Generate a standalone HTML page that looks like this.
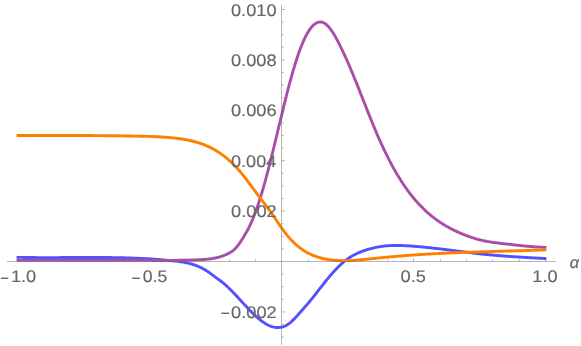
<!DOCTYPE html>
<html><head><meta charset="utf-8"><title>plot</title>
<style>html,body{margin:0;padding:0;background:#fff;overflow:hidden}svg{display:block;font-family:"Liberation Sans",sans-serif}</style>
</head><body>
<svg width="581" height="346" viewBox="0 0 581 346">
<defs><filter id="noaa" x="-5%" y="-5%" width="110%" height="110%"><feOffset dx="0" dy="0"/></filter></defs>
<rect width="581" height="346" fill="#ffffff"/>
<g fill="none" stroke-width="2.9" stroke-linecap="square" stroke-linejoin="round">
<path d="M18.0 257.33 L19.0 257.35 L20.0 257.38 L21.0 257.39 L22.0 257.41 L23.0 257.43 L24.0 257.45 L25.0 257.46 L26.0 257.48 L27.0 257.49 L28.0 257.50 L29.0 257.51 L30.0 257.53 L31.0 257.54 L32.0 257.55 L33.0 257.55 L34.0 257.56 L35.0 257.57 L36.0 257.58 L37.0 257.58 L38.0 257.59 L39.0 257.59 L40.0 257.60 L41.0 257.60 L42.0 257.60 L43.0 257.60 L44.0 257.61 L45.0 257.61 L46.0 257.61 L47.0 257.61 L48.0 257.61 L49.0 257.61 L50.0 257.61 L51.0 257.60 L52.0 257.60 L53.0 257.60 L54.0 257.60 L55.0 257.60 L56.0 257.59 L57.0 257.59 L58.0 257.59 L59.0 257.58 L60.0 257.58 L61.0 257.57 L62.0 257.57 L63.0 257.56 L64.0 257.56 L65.0 257.55 L66.0 257.55 L67.0 257.54 L68.0 257.54 L69.0 257.53 L70.0 257.53 L71.0 257.52 L72.0 257.52 L73.0 257.51 L74.0 257.51 L75.0 257.50 L76.0 257.50 L77.0 257.50 L78.0 257.49 L79.0 257.49 L80.0 257.48 L81.0 257.48 L82.0 257.48 L83.0 257.47 L84.0 257.47 L85.0 257.47 L86.0 257.46 L87.0 257.46 L88.0 257.46 L89.0 257.46 L90.0 257.46 L91.0 257.46 L92.0 257.46 L93.0 257.46 L94.0 257.46 L95.0 257.46 L96.0 257.46 L97.0 257.47 L98.0 257.47 L99.0 257.47 L100.0 257.48 L101.0 257.48 L102.0 257.49 L103.0 257.49 L104.0 257.50 L105.0 257.51 L106.0 257.52 L107.0 257.53 L108.0 257.54 L109.0 257.55 L110.0 257.56 L111.0 257.57 L112.0 257.59 L113.0 257.60 L114.0 257.61 L115.0 257.63 L116.0 257.65 L117.0 257.67 L118.0 257.68 L119.0 257.70 L120.0 257.73 L121.0 257.75 L122.0 257.77 L123.0 257.80 L124.0 257.82 L125.0 257.85 L126.0 257.87 L127.0 257.90 L128.0 257.93 L129.0 257.96 L130.0 258.00 L131.0 258.03 L132.0 258.07 L133.0 258.10 L134.0 258.14 L135.0 258.18 L136.0 258.22 L137.0 258.26 L138.0 258.30 L139.0 258.35 L140.0 258.39 L141.0 258.44 L142.0 258.49 L143.0 258.54 L144.0 258.59 L145.0 258.65 L146.0 258.70 L147.0 258.76 L148.0 258.81 L149.0 258.87 L150.0 258.94 L151.0 259.00 L152.0 259.06 L153.0 259.13 L154.0 259.20 L155.0 259.27 L156.0 259.34 L157.0 259.41 L158.0 259.49 L159.0 259.57 L160.0 259.64 L161.0 259.73 L162.0 259.81 L163.0 259.89 L164.0 259.98 L165.0 260.07 L166.0 260.16 L167.0 260.25 L168.0 260.35 L169.0 260.44 L170.0 260.54 L171.0 260.64 L172.0 260.74 L173.0 260.85 L174.0 260.96 L175.0 261.07 L176.0 261.18 L177.0 261.30 L178.0 261.42 L179.0 261.55 L180.0 261.69 L181.0 261.84 L182.0 261.99 L183.0 262.15 L184.0 262.33 L185.0 262.51 L186.0 262.71 L187.0 262.92 L188.0 263.14 L189.0 263.38 L190.0 263.63 L191.0 263.90 L192.0 264.19 L193.0 264.50 L194.0 264.82 L195.0 265.16 L196.0 265.52 L197.0 265.91 L198.0 266.31 L199.0 266.74 L200.0 267.20 L201.0 267.67 L202.0 268.17 L203.0 268.70 L204.0 269.26 L205.0 269.84 L206.0 270.45 L207.0 271.09 L208.0 271.76 L209.0 272.45 L210.0 273.16 L211.0 273.89 L212.0 274.62 L213.0 275.37 L214.0 276.11 L215.0 276.86 L216.0 277.60 L217.0 278.33 L218.0 279.06 L219.0 279.78 L220.0 280.51 L221.0 281.25 L222.0 282.02 L223.0 282.82 L224.0 283.65 L225.0 284.51 L226.0 285.39 L227.0 286.31 L228.0 287.24 L229.0 288.20 L230.0 289.18 L231.0 290.18 L232.0 291.20 L233.0 292.23 L234.0 293.27 L235.0 294.33 L236.0 295.40 L237.0 296.48 L238.0 297.56 L239.0 298.65 L240.0 299.74 L241.0 300.84 L242.0 301.93 L243.0 303.03 L244.0 304.12 L245.0 305.21 L246.0 306.29 L247.0 307.36 L248.0 308.42 L249.0 309.47 L250.0 310.50 L251.0 311.52 L252.0 312.53 L253.0 313.51 L254.0 314.48 L255.0 315.42 L256.0 316.34 L257.0 317.24 L258.0 318.11 L259.0 318.95 L260.0 319.76 L261.0 320.54 L262.0 321.28 L263.0 322.00 L264.0 322.67 L265.0 323.31 L266.0 323.91 L267.0 324.47 L268.0 324.99 L269.0 325.47 L270.0 325.90 L271.0 326.29 L272.0 326.62 L273.0 326.91 L274.0 327.15 L275.0 327.34 L276.0 327.47 L277.0 327.55 L278.0 327.57 L279.0 327.53 L280.0 327.43 L281.0 327.28 L282.0 327.06 L283.0 326.77 L284.0 326.42 L285.0 326.01 L286.0 325.52 L287.0 324.97 L288.0 324.34 L289.0 323.65 L290.0 322.87 L291.0 322.03 L292.0 321.12 L293.0 320.15 L294.0 319.14 L295.0 318.10 L296.0 317.03 L297.0 315.93 L298.0 314.81 L299.0 313.69 L300.0 312.56 L301.0 311.44 L302.0 310.31 L303.0 309.18 L304.0 308.04 L305.0 306.90 L306.0 305.75 L307.0 304.59 L308.0 303.41 L309.0 302.23 L310.0 301.02 L311.0 299.81 L312.0 298.57 L313.0 297.32 L314.0 296.06 L315.0 294.79 L316.0 293.52 L317.0 292.24 L318.0 290.95 L319.0 289.66 L320.0 288.38 L321.0 287.09 L322.0 285.81 L323.0 284.53 L324.0 283.27 L325.0 282.01 L326.0 280.77 L327.0 279.54 L328.0 278.32 L329.0 277.12 L330.0 275.94 L331.0 274.77 L332.0 273.63 L333.0 272.50 L334.0 271.40 L335.0 270.32 L336.0 269.25 L337.0 268.22 L338.0 267.21 L339.0 266.22 L340.0 265.26 L341.0 264.32 L342.0 263.42 L343.0 262.54 L344.0 261.70 L345.0 260.88 L346.0 260.10 L347.0 259.35 L348.0 258.63 L349.0 257.94 L350.0 257.29 L351.0 256.67 L352.0 256.07 L353.0 255.51 L354.0 254.97 L355.0 254.45 L356.0 253.96 L357.0 253.49 L358.0 253.04 L359.0 252.60 L360.0 252.19 L361.0 251.79 L362.0 251.41 L363.0 251.04 L364.0 250.69 L365.0 250.35 L366.0 250.02 L367.0 249.70 L368.0 249.39 L369.0 249.10 L370.0 248.82 L371.0 248.55 L372.0 248.29 L373.0 248.05 L374.0 247.81 L375.0 247.59 L376.0 247.38 L377.0 247.18 L378.0 246.99 L379.0 246.82 L380.0 246.65 L381.0 246.50 L382.0 246.36 L383.0 246.23 L384.0 246.11 L385.0 246.00 L386.0 245.90 L387.0 245.81 L388.0 245.73 L389.0 245.66 L390.0 245.61 L391.0 245.56 L392.0 245.52 L393.0 245.49 L394.0 245.47 L395.0 245.46 L396.0 245.45 L397.0 245.45 L398.0 245.46 L399.0 245.48 L400.0 245.50 L401.0 245.53 L402.0 245.56 L403.0 245.60 L404.0 245.65 L405.0 245.69 L406.0 245.75 L407.0 245.80 L408.0 245.86 L409.0 245.92 L410.0 245.99 L411.0 246.05 L412.0 246.12 L413.0 246.20 L414.0 246.27 L415.0 246.35 L416.0 246.43 L417.0 246.51 L418.0 246.59 L419.0 246.68 L420.0 246.77 L421.0 246.86 L422.0 246.95 L423.0 247.05 L424.0 247.15 L425.0 247.24 L426.0 247.34 L427.0 247.45 L428.0 247.55 L429.0 247.66 L430.0 247.76 L431.0 247.87 L432.0 247.98 L433.0 248.09 L434.0 248.21 L435.0 248.32 L436.0 248.44 L437.0 248.55 L438.0 248.67 L439.0 248.79 L440.0 248.91 L441.0 249.03 L442.0 249.15 L443.0 249.27 L444.0 249.40 L445.0 249.52 L446.0 249.65 L447.0 249.77 L448.0 249.90 L449.0 250.02 L450.0 250.15 L451.0 250.28 L452.0 250.40 L453.0 250.53 L454.0 250.66 L455.0 250.78 L456.0 250.91 L457.0 251.04 L458.0 251.17 L459.0 251.29 L460.0 251.42 L461.0 251.55 L462.0 251.67 L463.0 251.80 L464.0 251.93 L465.0 252.05 L466.0 252.18 L467.0 252.30 L468.0 252.42 L469.0 252.54 L470.0 252.67 L471.0 252.79 L472.0 252.91 L473.0 253.03 L474.0 253.14 L475.0 253.26 L476.0 253.38 L477.0 253.49 L478.0 253.60 L479.0 253.72 L480.0 253.83 L481.0 253.94 L482.0 254.04 L483.0 254.15 L484.0 254.25 L485.0 254.36 L486.0 254.46 L487.0 254.56 L488.0 254.65 L489.0 254.75 L490.0 254.85 L491.0 254.94 L492.0 255.03 L493.0 255.12 L494.0 255.21 L495.0 255.30 L496.0 255.38 L497.0 255.47 L498.0 255.55 L499.0 255.63 L500.0 255.71 L501.0 255.79 L502.0 255.87 L503.0 255.95 L504.0 256.03 L505.0 256.10 L506.0 256.17 L507.0 256.25 L508.0 256.32 L509.0 256.39 L510.0 256.46 L511.0 256.53 L512.0 256.60 L513.0 256.66 L514.0 256.73 L515.0 256.79 L516.0 256.86 L517.0 256.92 L518.0 256.99 L519.0 257.05 L520.0 257.11 L521.0 257.17 L522.0 257.23 L523.0 257.29 L524.0 257.35 L525.0 257.41 L526.0 257.47 L527.0 257.53 L528.0 257.58 L529.0 257.64 L530.0 257.70 L531.0 257.75 L532.0 257.81 L533.0 257.86 L534.0 257.92 L535.0 257.97 L536.0 258.03 L537.0 258.08 L538.0 258.14 L539.0 258.19 L540.0 258.24 L541.0 258.30 L542.0 258.35 L543.0 258.41 L544.0 258.46 L545.0 258.51" stroke="#5151ff"/>
<path d="M18.0 260.26 L19.0 260.27 L20.0 260.28 L21.0 260.29 L22.0 260.30 L23.0 260.30 L24.0 260.31 L25.0 260.32 L26.0 260.32 L27.0 260.33 L28.0 260.33 L29.0 260.34 L30.0 260.34 L31.0 260.35 L32.0 260.35 L33.0 260.35 L34.0 260.36 L35.0 260.36 L36.0 260.36 L37.0 260.36 L38.0 260.36 L39.0 260.37 L40.0 260.37 L41.0 260.37 L42.0 260.37 L43.0 260.37 L44.0 260.37 L45.0 260.37 L46.0 260.37 L47.0 260.37 L48.0 260.37 L49.0 260.37 L50.0 260.36 L51.0 260.36 L52.0 260.36 L53.0 260.36 L54.0 260.36 L55.0 260.35 L56.0 260.35 L57.0 260.35 L58.0 260.35 L59.0 260.34 L60.0 260.34 L61.0 260.34 L62.0 260.33 L63.0 260.33 L64.0 260.33 L65.0 260.32 L66.0 260.32 L67.0 260.32 L68.0 260.31 L69.0 260.31 L70.0 260.31 L71.0 260.30 L72.0 260.30 L73.0 260.29 L74.0 260.29 L75.0 260.29 L76.0 260.28 L77.0 260.28 L78.0 260.27 L79.0 260.27 L80.0 260.27 L81.0 260.26 L82.0 260.26 L83.0 260.25 L84.0 260.25 L85.0 260.25 L86.0 260.24 L87.0 260.24 L88.0 260.24 L89.0 260.23 L90.0 260.23 L91.0 260.23 L92.0 260.23 L93.0 260.22 L94.0 260.22 L95.0 260.22 L96.0 260.22 L97.0 260.21 L98.0 260.21 L99.0 260.21 L100.0 260.21 L101.0 260.21 L102.0 260.21 L103.0 260.21 L104.0 260.20 L105.0 260.20 L106.0 260.20 L107.0 260.20 L108.0 260.20 L109.0 260.20 L110.0 260.21 L111.0 260.21 L112.0 260.21 L113.0 260.21 L114.0 260.21 L115.0 260.21 L116.0 260.22 L117.0 260.22 L118.0 260.22 L119.0 260.23 L120.0 260.23 L121.0 260.24 L122.0 260.24 L123.0 260.25 L124.0 260.25 L125.0 260.26 L126.0 260.26 L127.0 260.27 L128.0 260.28 L129.0 260.28 L130.0 260.29 L131.0 260.30 L132.0 260.30 L133.0 260.31 L134.0 260.32 L135.0 260.32 L136.0 260.33 L137.0 260.34 L138.0 260.34 L139.0 260.35 L140.0 260.36 L141.0 260.37 L142.0 260.37 L143.0 260.38 L144.0 260.38 L145.0 260.39 L146.0 260.40 L147.0 260.40 L148.0 260.41 L149.0 260.41 L150.0 260.42 L151.0 260.42 L152.0 260.43 L153.0 260.43 L154.0 260.43 L155.0 260.44 L156.0 260.44 L157.0 260.44 L158.0 260.44 L159.0 260.44 L160.0 260.44 L161.0 260.44 L162.0 260.44 L163.0 260.44 L164.0 260.44 L165.0 260.43 L166.0 260.43 L167.0 260.42 L168.0 260.42 L169.0 260.41 L170.0 260.41 L171.0 260.40 L172.0 260.39 L173.0 260.38 L174.0 260.37 L175.0 260.36 L176.0 260.35 L177.0 260.34 L178.0 260.32 L179.0 260.31 L180.0 260.29 L181.0 260.27 L182.0 260.26 L183.0 260.24 L184.0 260.22 L185.0 260.19 L186.0 260.17 L187.0 260.15 L188.0 260.12 L189.0 260.10 L190.0 260.07 L191.0 260.04 L192.0 260.01 L193.0 259.98 L194.0 259.95 L195.0 259.91 L196.0 259.87 L197.0 259.84 L198.0 259.80 L199.0 259.76 L200.0 259.71 L201.0 259.66 L202.0 259.61 L203.0 259.55 L204.0 259.48 L205.0 259.40 L206.0 259.32 L207.0 259.22 L208.0 259.12 L209.0 259.01 L210.0 258.88 L211.0 258.74 L212.0 258.59 L213.0 258.42 L214.0 258.24 L215.0 258.04 L216.0 257.83 L217.0 257.60 L218.0 257.35 L219.0 257.08 L220.0 256.79 L221.0 256.48 L222.0 256.15 L223.0 255.80 L224.0 255.42 L225.0 255.02 L226.0 254.60 L227.0 254.15 L228.0 253.67 L229.0 253.16 L230.0 252.61 L231.0 252.01 L232.0 251.33 L233.0 250.59 L234.0 249.75 L235.0 248.82 L236.0 247.77 L237.0 246.61 L238.0 245.34 L239.0 243.99 L240.0 242.55 L241.0 241.05 L242.0 239.50 L243.0 237.91 L244.0 236.28 L245.0 234.61 L246.0 232.88 L247.0 231.10 L248.0 229.24 L249.0 227.30 L250.0 225.26 L251.0 223.12 L252.0 220.86 L253.0 218.49 L254.0 216.00 L255.0 213.39 L256.0 210.67 L257.0 207.85 L258.0 204.92 L259.0 201.89 L260.0 198.76 L261.0 195.54 L262.0 192.22 L263.0 188.82 L264.0 185.34 L265.0 181.78 L266.0 178.14 L267.0 174.42 L268.0 170.64 L269.0 166.80 L270.0 162.89 L271.0 158.92 L272.0 154.90 L273.0 150.84 L274.0 146.73 L275.0 142.60 L276.0 138.45 L277.0 134.28 L278.0 130.11 L279.0 125.95 L280.0 121.79 L281.0 117.66 L282.0 113.55 L283.0 109.46 L284.0 105.38 L285.0 101.32 L286.0 97.31 L287.0 93.37 L288.0 89.48 L289.0 85.67 L290.0 81.93 L291.0 78.27 L292.0 74.69 L293.0 71.20 L294.0 67.80 L295.0 64.50 L296.0 61.30 L297.0 58.20 L298.0 55.21 L299.0 52.34 L300.0 49.58 L301.0 46.95 L302.0 44.44 L303.0 42.06 L304.0 39.82 L305.0 37.70 L306.0 35.72 L307.0 33.87 L308.0 32.15 L309.0 30.56 L310.0 29.10 L311.0 27.78 L312.0 26.60 L313.0 25.54 L314.0 24.63 L315.0 23.85 L316.0 23.20 L317.0 22.69 L318.0 22.31 L319.0 22.08 L320.0 21.98 L321.0 22.02 L322.0 22.19 L323.0 22.51 L324.0 22.96 L325.0 23.56 L326.0 24.29 L327.0 25.16 L328.0 26.15 L329.0 27.27 L330.0 28.50 L331.0 29.83 L332.0 31.26 L333.0 32.79 L334.0 34.41 L335.0 36.10 L336.0 37.87 L337.0 39.70 L338.0 41.59 L339.0 43.54 L340.0 45.54 L341.0 47.57 L342.0 49.64 L343.0 51.75 L344.0 53.89 L345.0 56.07 L346.0 58.27 L347.0 60.52 L348.0 62.79 L349.0 65.09 L350.0 67.42 L351.0 69.77 L352.0 72.16 L353.0 74.56 L354.0 76.99 L355.0 79.44 L356.0 81.91 L357.0 84.39 L358.0 86.88 L359.0 89.39 L360.0 91.91 L361.0 94.43 L362.0 96.96 L363.0 99.49 L364.0 102.02 L365.0 104.55 L366.0 107.08 L367.0 109.60 L368.0 112.11 L369.0 114.61 L370.0 117.10 L371.0 119.57 L372.0 122.03 L373.0 124.47 L374.0 126.89 L375.0 129.29 L376.0 131.66 L377.0 134.00 L378.0 136.31 L379.0 138.60 L380.0 140.84 L381.0 143.06 L382.0 145.25 L383.0 147.40 L384.0 149.52 L385.0 151.61 L386.0 153.66 L387.0 155.69 L388.0 157.68 L389.0 159.64 L390.0 161.57 L391.0 163.46 L392.0 165.32 L393.0 167.16 L394.0 168.96 L395.0 170.72 L396.0 172.46 L397.0 174.16 L398.0 175.84 L399.0 177.48 L400.0 179.09 L401.0 180.66 L402.0 182.21 L403.0 183.73 L404.0 185.22 L405.0 186.68 L406.0 188.11 L407.0 189.51 L408.0 190.88 L409.0 192.22 L410.0 193.54 L411.0 194.83 L412.0 196.09 L413.0 197.33 L414.0 198.54 L415.0 199.73 L416.0 200.89 L417.0 202.03 L418.0 203.14 L419.0 204.23 L420.0 205.29 L421.0 206.33 L422.0 207.35 L423.0 208.34 L424.0 209.32 L425.0 210.27 L426.0 211.20 L427.0 212.11 L428.0 213.00 L429.0 213.87 L430.0 214.72 L431.0 215.55 L432.0 216.36 L433.0 217.16 L434.0 217.93 L435.0 218.69 L436.0 219.43 L437.0 220.15 L438.0 220.86 L439.0 221.55 L440.0 222.22 L441.0 222.88 L442.0 223.52 L443.0 224.15 L444.0 224.77 L445.0 225.37 L446.0 225.96 L447.0 226.53 L448.0 227.09 L449.0 227.64 L450.0 228.18 L451.0 228.71 L452.0 229.22 L453.0 229.73 L454.0 230.22 L455.0 230.70 L456.0 231.18 L457.0 231.64 L458.0 232.10 L459.0 232.55 L460.0 232.99 L461.0 233.42 L462.0 233.84 L463.0 234.25 L464.0 234.66 L465.0 235.05 L466.0 235.44 L467.0 235.82 L468.0 236.19 L469.0 236.55 L470.0 236.90 L471.0 237.24 L472.0 237.57 L473.0 237.90 L474.0 238.21 L475.0 238.51 L476.0 238.81 L477.0 239.09 L478.0 239.37 L479.0 239.64 L480.0 239.89 L481.0 240.14 L482.0 240.37 L483.0 240.60 L484.0 240.81 L485.0 241.02 L486.0 241.22 L487.0 241.40 L488.0 241.58 L489.0 241.75 L490.0 241.92 L491.0 242.07 L492.0 242.22 L493.0 242.37 L494.0 242.51 L495.0 242.64 L496.0 242.77 L497.0 242.89 L498.0 243.02 L499.0 243.14 L500.0 243.25 L501.0 243.37 L502.0 243.48 L503.0 243.60 L504.0 243.71 L505.0 243.83 L506.0 243.94 L507.0 244.06 L508.0 244.17 L509.0 244.29 L510.0 244.40 L511.0 244.52 L512.0 244.63 L513.0 244.75 L514.0 244.86 L515.0 244.97 L516.0 245.09 L517.0 245.20 L518.0 245.31 L519.0 245.41 L520.0 245.52 L521.0 245.63 L522.0 245.73 L523.0 245.83 L524.0 245.93 L525.0 246.03 L526.0 246.13 L527.0 246.22 L528.0 246.31 L529.0 246.40 L530.0 246.49 L531.0 246.57 L532.0 246.65 L533.0 246.73 L534.0 246.80 L535.0 246.87 L536.0 246.94 L537.0 247.00 L538.0 247.06 L539.0 247.12 L540.0 247.17 L541.0 247.22 L542.0 247.27 L543.0 247.31 L544.0 247.34 L545.0 247.37" stroke="#a84ea9"/>
<path d="M18.0 135.51 L19.0 135.51 L20.0 135.51 L21.0 135.50 L22.0 135.50 L23.0 135.50 L24.0 135.50 L25.0 135.50 L26.0 135.49 L27.0 135.49 L28.0 135.49 L29.0 135.49 L30.0 135.49 L31.0 135.49 L32.0 135.48 L33.0 135.48 L34.0 135.48 L35.0 135.48 L36.0 135.48 L37.0 135.48 L38.0 135.48 L39.0 135.47 L40.0 135.47 L41.0 135.47 L42.0 135.47 L43.0 135.47 L44.0 135.47 L45.0 135.47 L46.0 135.47 L47.0 135.47 L48.0 135.47 L49.0 135.46 L50.0 135.46 L51.0 135.46 L52.0 135.46 L53.0 135.46 L54.0 135.46 L55.0 135.46 L56.0 135.46 L57.0 135.46 L58.0 135.46 L59.0 135.46 L60.0 135.47 L61.0 135.47 L62.0 135.47 L63.0 135.47 L64.0 135.47 L65.0 135.47 L66.0 135.47 L67.0 135.47 L68.0 135.47 L69.0 135.48 L70.0 135.48 L71.0 135.48 L72.0 135.48 L73.0 135.49 L74.0 135.49 L75.0 135.49 L76.0 135.49 L77.0 135.50 L78.0 135.50 L79.0 135.50 L80.0 135.51 L81.0 135.51 L82.0 135.52 L83.0 135.52 L84.0 135.52 L85.0 135.53 L86.0 135.53 L87.0 135.54 L88.0 135.54 L89.0 135.55 L90.0 135.56 L91.0 135.56 L92.0 135.57 L93.0 135.58 L94.0 135.58 L95.0 135.59 L96.0 135.60 L97.0 135.60 L98.0 135.61 L99.0 135.62 L100.0 135.63 L101.0 135.64 L102.0 135.64 L103.0 135.65 L104.0 135.66 L105.0 135.67 L106.0 135.68 L107.0 135.69 L108.0 135.70 L109.0 135.71 L110.0 135.72 L111.0 135.73 L112.0 135.75 L113.0 135.76 L114.0 135.77 L115.0 135.78 L116.0 135.80 L117.0 135.81 L118.0 135.82 L119.0 135.83 L120.0 135.85 L121.0 135.86 L122.0 135.88 L123.0 135.89 L124.0 135.91 L125.0 135.92 L126.0 135.94 L127.0 135.96 L128.0 135.97 L129.0 135.99 L130.0 136.01 L131.0 136.02 L132.0 136.04 L133.0 136.06 L134.0 136.08 L135.0 136.10 L136.0 136.12 L137.0 136.14 L138.0 136.16 L139.0 136.18 L140.0 136.20 L141.0 136.22 L142.0 136.24 L143.0 136.27 L144.0 136.29 L145.0 136.31 L146.0 136.34 L147.0 136.36 L148.0 136.39 L149.0 136.42 L150.0 136.45 L151.0 136.48 L152.0 136.52 L153.0 136.56 L154.0 136.59 L155.0 136.63 L156.0 136.68 L157.0 136.72 L158.0 136.77 L159.0 136.82 L160.0 136.88 L161.0 136.93 L162.0 136.99 L163.0 137.05 L164.0 137.12 L165.0 137.19 L166.0 137.27 L167.0 137.34 L168.0 137.42 L169.0 137.51 L170.0 137.60 L171.0 137.69 L172.0 137.79 L173.0 137.90 L174.0 138.00 L175.0 138.12 L176.0 138.23 L177.0 138.36 L178.0 138.48 L179.0 138.62 L180.0 138.76 L181.0 138.90 L182.0 139.05 L183.0 139.21 L184.0 139.37 L185.0 139.54 L186.0 139.72 L187.0 139.91 L188.0 140.11 L189.0 140.31 L190.0 140.52 L191.0 140.75 L192.0 140.98 L193.0 141.22 L194.0 141.48 L195.0 141.74 L196.0 142.02 L197.0 142.31 L198.0 142.61 L199.0 142.92 L200.0 143.25 L201.0 143.59 L202.0 143.94 L203.0 144.31 L204.0 144.69 L205.0 145.09 L206.0 145.51 L207.0 145.94 L208.0 146.38 L209.0 146.84 L210.0 147.32 L211.0 147.82 L212.0 148.34 L213.0 148.87 L214.0 149.42 L215.0 149.99 L216.0 150.58 L217.0 151.19 L218.0 151.82 L219.0 152.48 L220.0 153.15 L221.0 153.84 L222.0 154.56 L223.0 155.30 L224.0 156.06 L225.0 156.84 L226.0 157.64 L227.0 158.47 L228.0 159.32 L229.0 160.20 L230.0 161.10 L231.0 162.02 L232.0 162.97 L233.0 163.95 L234.0 164.94 L235.0 165.97 L236.0 167.02 L237.0 168.09 L238.0 169.19 L239.0 170.32 L240.0 171.47 L241.0 172.66 L242.0 173.86 L243.0 175.10 L244.0 176.36 L245.0 177.64 L246.0 178.93 L247.0 180.25 L248.0 181.58 L249.0 182.92 L250.0 184.27 L251.0 185.63 L252.0 186.99 L253.0 188.35 L254.0 189.71 L255.0 191.07 L256.0 192.42 L257.0 193.76 L258.0 195.10 L259.0 196.42 L260.0 197.74 L261.0 199.05 L262.0 200.36 L263.0 201.67 L264.0 202.99 L265.0 204.31 L266.0 205.64 L267.0 206.98 L268.0 208.33 L269.0 209.70 L270.0 211.08 L271.0 212.49 L272.0 213.92 L273.0 215.36 L274.0 216.82 L275.0 218.29 L276.0 219.76 L277.0 221.23 L278.0 222.70 L279.0 224.16 L280.0 225.61 L281.0 227.05 L282.0 228.46 L283.0 229.85 L284.0 231.22 L285.0 232.55 L286.0 233.84 L287.0 235.10 L288.0 236.31 L289.0 237.48 L290.0 238.62 L291.0 239.71 L292.0 240.76 L293.0 241.78 L294.0 242.76 L295.0 243.70 L296.0 244.61 L297.0 245.48 L298.0 246.32 L299.0 247.13 L300.0 247.90 L301.0 248.64 L302.0 249.35 L303.0 250.03 L304.0 250.68 L305.0 251.31 L306.0 251.90 L307.0 252.47 L308.0 253.01 L309.0 253.52 L310.0 254.01 L311.0 254.48 L312.0 254.92 L313.0 255.35 L314.0 255.74 L315.0 256.12 L316.0 256.48 L317.0 256.82 L318.0 257.14 L319.0 257.44 L320.0 257.73 L321.0 257.99 L322.0 258.25 L323.0 258.49 L324.0 258.71 L325.0 258.92 L326.0 259.12 L327.0 259.30 L328.0 259.47 L329.0 259.63 L330.0 259.77 L331.0 259.90 L332.0 260.02 L333.0 260.13 L334.0 260.23 L335.0 260.32 L336.0 260.40 L337.0 260.47 L338.0 260.52 L339.0 260.57 L340.0 260.61 L341.0 260.64 L342.0 260.66 L343.0 260.67 L344.0 260.67 L345.0 260.67 L346.0 260.66 L347.0 260.64 L348.0 260.61 L349.0 260.58 L350.0 260.54 L351.0 260.50 L352.0 260.45 L353.0 260.39 L354.0 260.33 L355.0 260.27 L356.0 260.20 L357.0 260.12 L358.0 260.04 L359.0 259.96 L360.0 259.88 L361.0 259.79 L362.0 259.70 L363.0 259.60 L364.0 259.50 L365.0 259.40 L366.0 259.30 L367.0 259.20 L368.0 259.10 L369.0 258.99 L370.0 258.89 L371.0 258.78 L372.0 258.67 L373.0 258.57 L374.0 258.46 L375.0 258.35 L376.0 258.25 L377.0 258.14 L378.0 258.04 L379.0 257.94 L380.0 257.84 L381.0 257.74 L382.0 257.64 L383.0 257.54 L384.0 257.44 L385.0 257.35 L386.0 257.25 L387.0 257.16 L388.0 257.07 L389.0 256.98 L390.0 256.88 L391.0 256.79 L392.0 256.71 L393.0 256.62 L394.0 256.53 L395.0 256.44 L396.0 256.36 L397.0 256.27 L398.0 256.19 L399.0 256.11 L400.0 256.03 L401.0 255.95 L402.0 255.87 L403.0 255.79 L404.0 255.71 L405.0 255.63 L406.0 255.56 L407.0 255.48 L408.0 255.41 L409.0 255.33 L410.0 255.26 L411.0 255.19 L412.0 255.12 L413.0 255.05 L414.0 254.98 L415.0 254.91 L416.0 254.84 L417.0 254.78 L418.0 254.71 L419.0 254.65 L420.0 254.58 L421.0 254.52 L422.0 254.46 L423.0 254.39 L424.0 254.33 L425.0 254.27 L426.0 254.21 L427.0 254.15 L428.0 254.09 L429.0 254.04 L430.0 253.98 L431.0 253.92 L432.0 253.87 L433.0 253.81 L434.0 253.76 L435.0 253.71 L436.0 253.65 L437.0 253.60 L438.0 253.55 L439.0 253.50 L440.0 253.45 L441.0 253.40 L442.0 253.35 L443.0 253.31 L444.0 253.26 L445.0 253.21 L446.0 253.16 L447.0 253.12 L448.0 253.07 L449.0 253.03 L450.0 252.99 L451.0 252.94 L452.0 252.90 L453.0 252.86 L454.0 252.81 L455.0 252.77 L456.0 252.73 L457.0 252.69 L458.0 252.65 L459.0 252.61 L460.0 252.57 L461.0 252.53 L462.0 252.50 L463.0 252.46 L464.0 252.42 L465.0 252.38 L466.0 252.35 L467.0 252.31 L468.0 252.28 L469.0 252.24 L470.0 252.20 L471.0 252.17 L472.0 252.14 L473.0 252.10 L474.0 252.07 L475.0 252.03 L476.0 252.00 L477.0 251.97 L478.0 251.94 L479.0 251.90 L480.0 251.87 L481.0 251.84 L482.0 251.81 L483.0 251.78 L484.0 251.75 L485.0 251.72 L486.0 251.69 L487.0 251.66 L488.0 251.62 L489.0 251.59 L490.0 251.57 L491.0 251.54 L492.0 251.51 L493.0 251.48 L494.0 251.45 L495.0 251.42 L496.0 251.39 L497.0 251.36 L498.0 251.33 L499.0 251.30 L500.0 251.27 L501.0 251.25 L502.0 251.22 L503.0 251.19 L504.0 251.16 L505.0 251.13 L506.0 251.10 L507.0 251.08 L508.0 251.05 L509.0 251.02 L510.0 250.99 L511.0 250.96 L512.0 250.93 L513.0 250.91 L514.0 250.88 L515.0 250.85 L516.0 250.82 L517.0 250.79 L518.0 250.76 L519.0 250.73 L520.0 250.71 L521.0 250.68 L522.0 250.65 L523.0 250.62 L524.0 250.59 L525.0 250.56 L526.0 250.53 L527.0 250.50 L528.0 250.47 L529.0 250.44 L530.0 250.41 L531.0 250.38 L532.0 250.35 L533.0 250.31 L534.0 250.28 L535.0 250.25 L536.0 250.22 L537.0 250.19 L538.0 250.16 L539.0 250.12 L540.0 250.09 L541.0 250.06 L542.0 250.02 L543.0 249.99 L544.0 249.95 L545.0 249.92" stroke="#ff8000"/>
</g>
<g fill="#666666" fill-opacity="0.47"><rect x="7" y="261" width="549" height="1"/><rect x="281" y="5" width="1" height="340"/><rect x="18" y="258.00" width="1" height="3.5"/><rect x="44" y="259.40" width="1" height="2.1"/><rect x="70" y="259.40" width="1" height="2.1"/><rect x="97" y="259.40" width="1" height="2.1"/><rect x="123" y="259.40" width="1" height="2.1"/><rect x="150" y="258.00" width="1" height="3.5"/><rect x="176" y="259.40" width="1" height="2.1"/><rect x="202" y="259.40" width="1" height="2.1"/><rect x="229" y="259.40" width="1" height="2.1"/><rect x="255" y="259.40" width="1" height="2.1"/><rect x="308" y="259.40" width="1" height="2.1"/><rect x="334" y="259.40" width="1" height="2.1"/><rect x="361" y="259.40" width="1" height="2.1"/><rect x="387" y="259.40" width="1" height="2.1"/><rect x="413" y="258.00" width="1" height="3.5"/><rect x="440" y="259.40" width="1" height="2.1"/><rect x="466" y="259.40" width="1" height="2.1"/><rect x="492" y="259.40" width="1" height="2.1"/><rect x="519" y="259.40" width="1" height="2.1"/><rect x="545" y="258.00" width="1" height="3.5"/><rect x="281.5" y="336.60" width="2.2" height="1"/><rect x="281.5" y="324.00" width="2.2" height="1"/><rect x="281.5" y="311.40" width="3.5" height="1"/><rect x="281.5" y="298.80" width="2.2" height="1"/><rect x="281.5" y="286.20" width="2.2" height="1"/><rect x="281.5" y="273.60" width="2.2" height="1"/><rect x="281.5" y="248.40" width="2.2" height="1"/><rect x="281.5" y="235.80" width="2.2" height="1"/><rect x="281.5" y="223.20" width="2.2" height="1"/><rect x="281.5" y="210.60" width="3.5" height="1"/><rect x="281.5" y="198.00" width="2.2" height="1"/><rect x="281.5" y="185.40" width="2.2" height="1"/><rect x="281.5" y="172.80" width="2.2" height="1"/><rect x="281.5" y="160.20" width="3.5" height="1"/><rect x="281.5" y="147.60" width="2.2" height="1"/><rect x="281.5" y="135.00" width="2.2" height="1"/><rect x="281.5" y="122.40" width="2.2" height="1"/><rect x="281.5" y="109.80" width="3.5" height="1"/><rect x="281.5" y="97.20" width="2.2" height="1"/><rect x="281.5" y="84.60" width="2.2" height="1"/><rect x="281.5" y="72.00" width="2.2" height="1"/><rect x="281.5" y="59.40" width="3.5" height="1"/><rect x="281.5" y="46.80" width="2.2" height="1"/><rect x="281.5" y="34.20" width="2.2" height="1"/><rect x="281.5" y="21.60" width="2.2" height="1"/><rect x="281.5" y="9.00" width="3.5" height="1"/></g>
<g fill="#666666" font-family="Liberation Sans, sans-serif" font-size="16.8" text-rendering="geometricPrecision" filter="url(#noaa)" stroke="#666666" stroke-width="0.15"><text x="230.99" y="15.55" textLength="45.52" lengthAdjust="spacingAndGlyphs">0.010</text><text x="230.99" y="65.95" textLength="45.60" lengthAdjust="spacingAndGlyphs">0.008</text><text x="230.99" y="116.35" textLength="45.61" lengthAdjust="spacingAndGlyphs">0.006</text><text x="230.99" y="166.75" textLength="45.34" lengthAdjust="spacingAndGlyphs">0.004</text><text x="230.99" y="217.15" textLength="45.73" lengthAdjust="spacingAndGlyphs">0.002</text><text x="220.63" y="318.99" textLength="9.14" lengthAdjust="spacingAndGlyphs">−</text><text x="231.09" y="317.95" textLength="45.63" lengthAdjust="spacingAndGlyphs">0.002</text><text x="0.30" y="283.89" textLength="8.73" lengthAdjust="spacingAndGlyphs">−</text><text x="10.91" y="282.05" textLength="25.36" lengthAdjust="spacingAndGlyphs">1.0</text><text x="131.54" y="283.89" textLength="9.02" lengthAdjust="spacingAndGlyphs">−</text><text x="142.71" y="282.05" textLength="24.53" lengthAdjust="spacingAndGlyphs">0.5</text><text x="400.59" y="282.05" textLength="25.38" lengthAdjust="spacingAndGlyphs">0.5</text><text x="532.31" y="282.05" textLength="25.30" lengthAdjust="spacingAndGlyphs">1.0</text><text x="569.7" y="267.7" font-style="italic" font-size="16.5">α</text></g>
</svg>
</body></html>
